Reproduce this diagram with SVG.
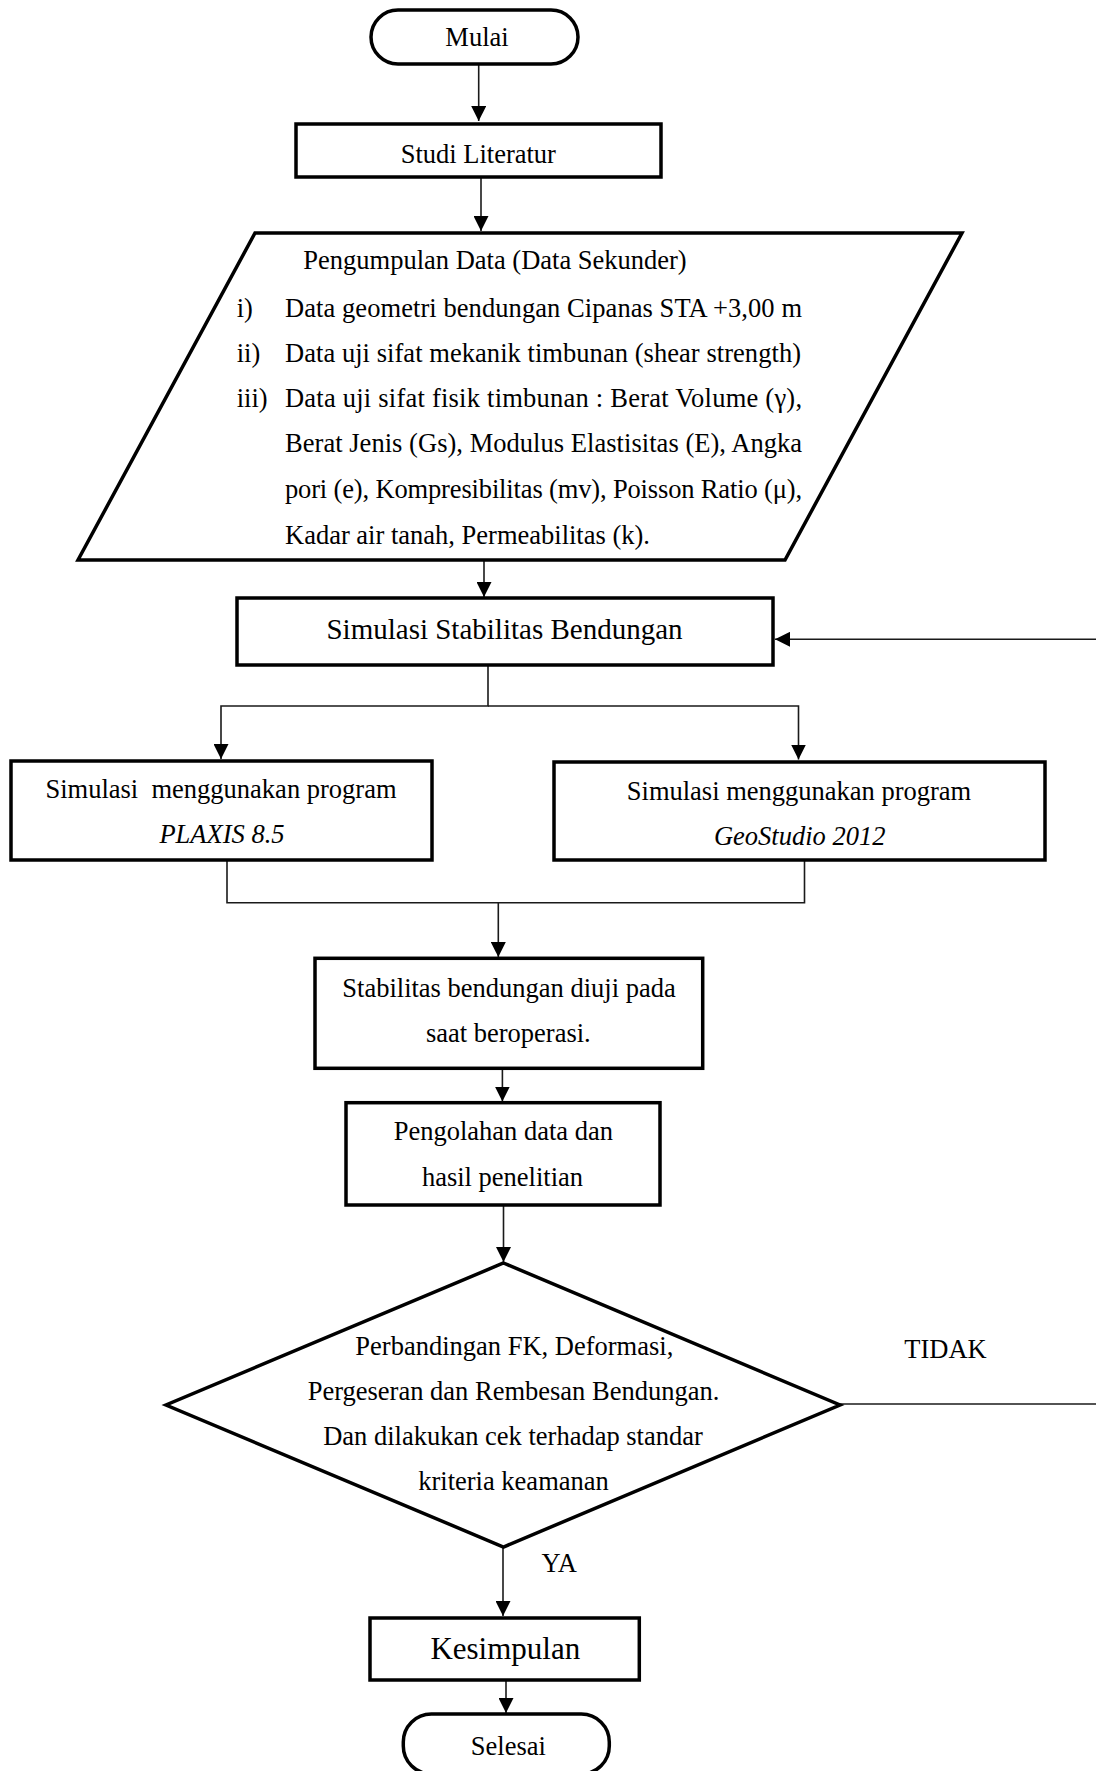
<svg xmlns="http://www.w3.org/2000/svg" width="1096" height="1771" viewBox="0 0 1096 1771">
<style>
.node{fill:#fff;stroke:#000;stroke-width:3.5}
.t{font-family:"Liberation Serif","Times New Roman",serif;font-size:26.5px;fill:#000}
.c{text-anchor:middle}
.i{font-style:italic}
.con{fill:none;stroke:#1a1a1a;stroke-width:1.6}
</style>
<defs>
<marker id="ah" markerUnits="userSpaceOnUse" markerWidth="15" markerHeight="15" refX="15" refY="7.5" orient="auto">
<path d="M0,0 L15,7.5 L0,15 z" fill="#000"/>
</marker>
</defs>
<rect width="1096" height="1771" fill="#fff"/>

<g id="connectors">
<path class="con" d="M478.7,64 V121" marker-end="url(#ah)"/>
<path class="con" d="M481,177 V231" marker-end="url(#ah)"/>
<path class="con" d="M484,560 V597" marker-end="url(#ah)"/>
<path class="con" d="M1096,639.3 H775" marker-end="url(#ah)"/>
<path class="con" d="M488,665 V706 H221 V759" marker-end="url(#ah)"/>
<path class="con" d="M488,706 H798.5 V759.5" marker-end="url(#ah)"/>
<path class="con" d="M227,860 V902.7 H804.5 V860"/>
<path class="con" d="M498.3,902.7 V957" marker-end="url(#ah)"/>
<path class="con" d="M502.4,1068.3 V1101.5" marker-end="url(#ah)"/>
<path class="con" d="M503.5,1205 V1262" marker-end="url(#ah)"/>
<path class="con" d="M840,1404 H1096"/>
<path class="con" d="M503,1547 V1616" marker-end="url(#ah)"/>
<path class="con" d="M506,1680 V1713" marker-end="url(#ah)"/>
</g>

<g id="mulai">
<rect class="node" x="371" y="10" width="207" height="54" rx="27" ry="27"/>
<text class="t c" x="477" y="46">Mulai</text>
</g>

<g id="studi-literatur">
<rect class="node" x="296" y="124" width="365" height="53"/>
<text class="t c" x="478.3" y="162.5">Studi Literatur</text>
</g>

<g id="pengumpulan-data">
<polygon class="node" points="255,233 962,233 785,560 78,560"/>
<text class="t" x="303.3" y="269.3">Pengumpulan Data (Data Sekunder)</text>
<text class="t" x="236.7" y="316.5">i)</text>
<text class="t" x="285" y="316.5" textLength="517" lengthAdjust="spacing">Data geometri bendungan Cipanas STA +3,00 m</text>
<text class="t" x="236.7" y="361.5">ii)</text>
<text class="t" x="285" y="361.5" textLength="516" lengthAdjust="spacing">Data uji sifat mekanik timbunan (shear strength)</text>
<text class="t" x="236.7" y="406.7">iii)</text>
<text class="t" x="285" y="406.7" textLength="517" lengthAdjust="spacing">Data uji sifat fisik timbunan : Berat Volume (γ),</text>
<text class="t" x="285" y="452.3" textLength="517" lengthAdjust="spacing">Berat Jenis (Gs), Modulus Elastisitas (E), Angka</text>
<text class="t" x="285" y="498" textLength="517" lengthAdjust="spacing">pori (e), Kompresibilitas (mv), Poisson Ratio (μ),</text>
<text class="t" x="285" y="543.7">Kadar air tanah, Permeabilitas (k).</text>
</g>

<g id="simulasi-stabilitas">
<rect class="node" x="237" y="598" width="536" height="67"/>
<text class="t c" x="504.5" y="638.5" style="font-size:29px">Simulasi Stabilitas Bendungan</text>
</g>

<g id="simulasi-plaxis">
<rect class="node" x="11" y="761" width="421" height="99"/>
<text class="t c" x="221" y="798">Simulasi&#160; menggunakan program</text>
<text class="t c i" x="222" y="843.3">PLAXIS 8.5</text>
</g>

<g id="simulasi-geostudio">
<rect class="node" x="554" y="762" width="491" height="98"/>
<text class="t c" x="799" y="800">Simulasi menggunakan program</text>
<text class="t c i" x="799.7" y="845">GeoStudio 2012</text>
</g>

<g id="stabilitas-diuji">
<rect class="node" x="315" y="958.3" width="387.7" height="110"/>
<text class="t c" x="509" y="996.7">Stabilitas bendungan diuji pada</text>
<text class="t c" x="508.3" y="1041.7">saat beroperasi.</text>
</g>

<g id="pengolahan-data">
<rect class="node" x="346" y="1102.7" width="314" height="102.3"/>
<text class="t c" x="503.3" y="1140">Pengolahan data dan</text>
<text class="t c" x="502.5" y="1186">hasil penelitian</text>
</g>

<g id="perbandingan">
<polygon class="node" points="503.5,1263 840,1405 503.5,1547 166,1405"/>
<text class="t c" x="514.3" y="1355">Perbandingan FK, Deformasi,</text>
<text class="t c" x="513.5" y="1400">Pergeseran dan Rembesan Bendungan.</text>
<text class="t c" x="513" y="1445">Dan dilakukan cek terhadap standar</text>
<text class="t c" x="513.5" y="1490">kriteria keamanan</text>
</g>

<g id="labels">
<text class="t c" x="945.5" y="1358.3">TIDAK</text>
<text class="t c" x="559.2" y="1571.7">YA</text>
</g>

<g id="kesimpulan">
<rect class="node" x="370" y="1618" width="269.3" height="62"/>
<text class="t c" x="505.3" y="1659.3" style="font-size:31px">Kesimpulan</text>
</g>

<g id="selesai">
<rect class="node" x="403.3" y="1714" width="206" height="60" rx="28" ry="28"/>
<text class="t c" x="508.3" y="1755">Selesai</text>
</g>
</svg>
